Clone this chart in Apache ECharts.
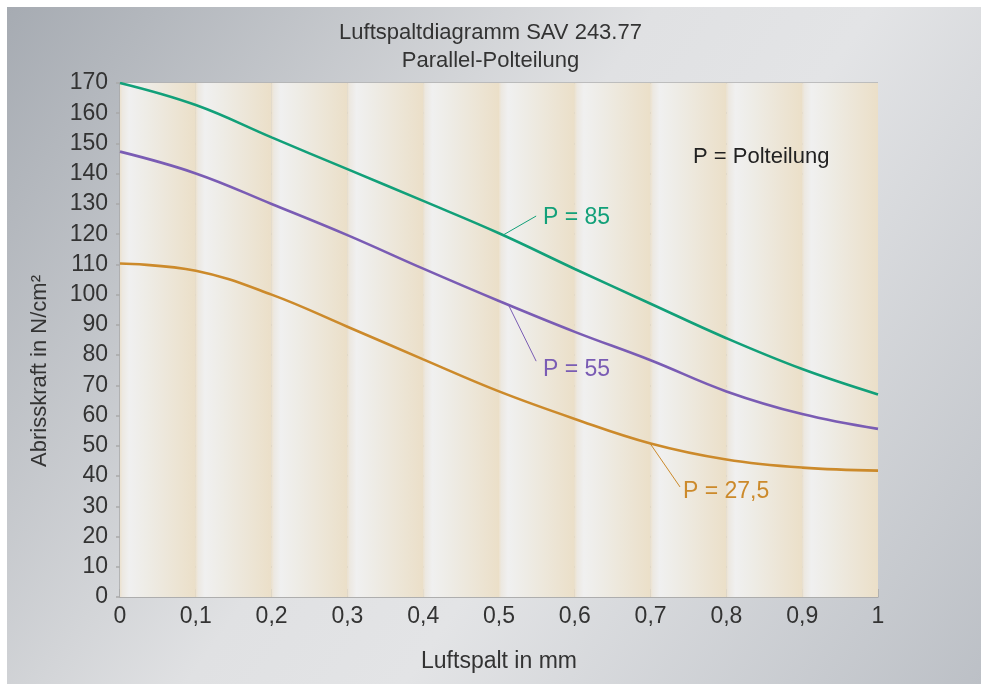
<!DOCTYPE html>
<html><head><meta charset="utf-8">
<script src="https://cdn.jsdelivr.net/npm/echarts@6/dist/echarts.min.js"></script>
<style>html,body{margin:0;padding:0;background:#fff;}#c{width:981px;height:684px;}</style>
</head><body><div id="c"></div>
<script>
const gaps = [0, 0.1, 0.2, 0.3, 0.4, 0.5, 0.6, 0.7, 0.8, 0.9, 1.0];
const p85 = [170, 162.7, 152, 141.5, 131, 120.3, 108.5, 97, 85.6, 75.4, 67];
const p55 = [147.3, 140.1, 130, 119.7, 108.6, 97.9, 87.7, 78.3, 68, 60.5, 55.6];
const p275 = [110.3, 107.9, 100, 89.4, 78.6, 68, 58.9, 50.8, 45.5, 42.8, 41.8];
const seriesNames = ['P = 85', 'P = 55', 'P = 27,5'];
const colors = ['#12a079', '#7a5cb4', '#cc8a2b'];
// annotations: leader line from curve point to 'to', text left-middle at 'label' (data coords)
const annot = [
  {from: [0.5053, 119.7], to: [0.549, 126], label: [0.558, 125.3], text: 'P = 85'},
  {from: [0.5119, 96.9], to: [0.549, 78], label: [0.558, 75.1], text: 'P = 55'},
  {from: [0.699, 50.9], to: [0.7388, 36.4], label: [0.7427, 34.7], text: 'P = 27,5'}
];
const legendNote = {at: [0.756, 145.5], text: 'P = Polteilung'};
const titleLines = ['Luftspaltdiagramm SAV 243.77', 'Parallel-Polteilung'];
const xName = 'Luftspalt in mm';
const yName = 'Abrisskraft in N/cm²';

const FONT = 'Liberation Sans';
const chart = echarts.init(document.getElementById('c'));
const stripeColor = {type:'linear', x:0, y:0, x2:1, y2:0, colorStops:[
  {offset:0, color:'#ede2ce'}, {offset:0.03, color:'#ece8e1'}, {offset:0.12, color:'#f0f0f0'},
  {offset:0.35, color:'#eeece6'}, {offset:1, color:'#ebdfc8'}]};
const stripes = [];
for (let i = 0; i < gaps.length - 1; i++) {
  stripes.push([{xAxis: gaps[i], itemStyle:{color: stripeColor}}, {xAxis: gaps[i+1]}]);
}
function mk(vals) { return gaps.map((g, i) => [g, vals[i]]); }
const allVals = [p85, p55, p275];
const series = allVals.map((v, i) => ({
  type:'line', name: seriesNames[i], data: mk(v), smooth: 0.4, symbol:'none',
  lineStyle:{color: colors[i], width: 2.6}, z: 5,
  markLine: {
    silent: true, symbol: 'none', label:{show:false},
    lineStyle:{color: colors[i], width: 1, type:'solid'},
    data: [[{coord: annot[i].from}, {coord: annot[i].to}]]
  }
}));
series.push({type:'line', data: [], silent:true, z:0,
  markArea:{silent:true, data: stripes}});

const bgRect = {type:'rect', z:-100, silent:true, shape:{x:7, y:7, width:974, height:677},
  style:{fill:{type:'linear', x:0, y:0, x2:1, y2:1, colorStops:[
    {offset:0, color:'#a6abb2'}, {offset:0.45, color:'#e0e1e3'}, {offset:0.6, color:'#e3e4e6'}, {offset:1, color:'#bcc0c6'}]}}};

chart.setOption({
  animation: false,
  title: {text: titleLines.join('\n'), left: 'center', top: 14,
    textStyle:{fontFamily: FONT, fontSize: 22, fontWeight:'normal', color:'#333', lineHeight: 28}},
  grid: {left: 120, right: 103, top: 83, bottom: 87},
  xAxis: {type:'value', min:0, max:1, interval:0.1,
    name: xName, nameLocation:'middle', nameGap: 53,
    nameTextStyle:{fontFamily: FONT, fontSize: 23, color:'#333'},
    axisLine:{show:true, lineStyle:{color:'#a9a9a9', width:1.5}},
    axisTick:{show:true, inside:true, length:8, lineStyle:{color:'#a9a9a9', width:1.5}},
    axisLabel:{fontFamily: FONT, fontSize: 23, color:'#333', margin: 8,
      formatter: v => (v === 0 || v === 1) ? String(v) : v.toFixed(1).replace('.', ',')},
    splitLine:{show:false}},
  yAxis: {type:'value', min:0, max:170, interval:10,
    axisLine:{show:true, lineStyle:{color:'#a9a9a9', width:1.5}},
    axisTick:{show:true, length:4, lineStyle:{color:'#a9a9a9', width:1.5}},
    axisLabel:{fontFamily: FONT, fontSize: 23, color:'#333', margin: 12},
    splitLine:{show:true, lineStyle:{color:'#b0b0b0', width:1.5}}},
  series: series,
  graphic: [bgRect]
});

const els = [bgRect];
annot.forEach((a, i) => {
  const p = chart.convertToPixel({gridIndex:0}, a.label);
  els.push({type:'text', x: p[0], y: p[1], z: 10,
    style:{text: a.text, fill: colors[i], font: '23px "' + FONT + '"', textAlign:'left', textVerticalAlign:'middle'}});
});
const q = chart.convertToPixel({gridIndex:0}, legendNote.at);
els.push({type:'text', x: q[0], y: q[1], z: 10,
  style:{text: legendNote.text, fill:'#222', font: '22px "' + FONT + '"', textAlign:'left', textVerticalAlign:'middle'}});
els.push({type:'text', x: 40, y: 371, rotation: Math.PI/2, z: 10,
  style:{text: yName, fill:'#333', font: '22px "' + FONT + '"', textAlign:'center', textVerticalAlign:'middle'}});
chart.setOption({graphic: els}, {replaceMerge: ['graphic']});
</script></body></html>
